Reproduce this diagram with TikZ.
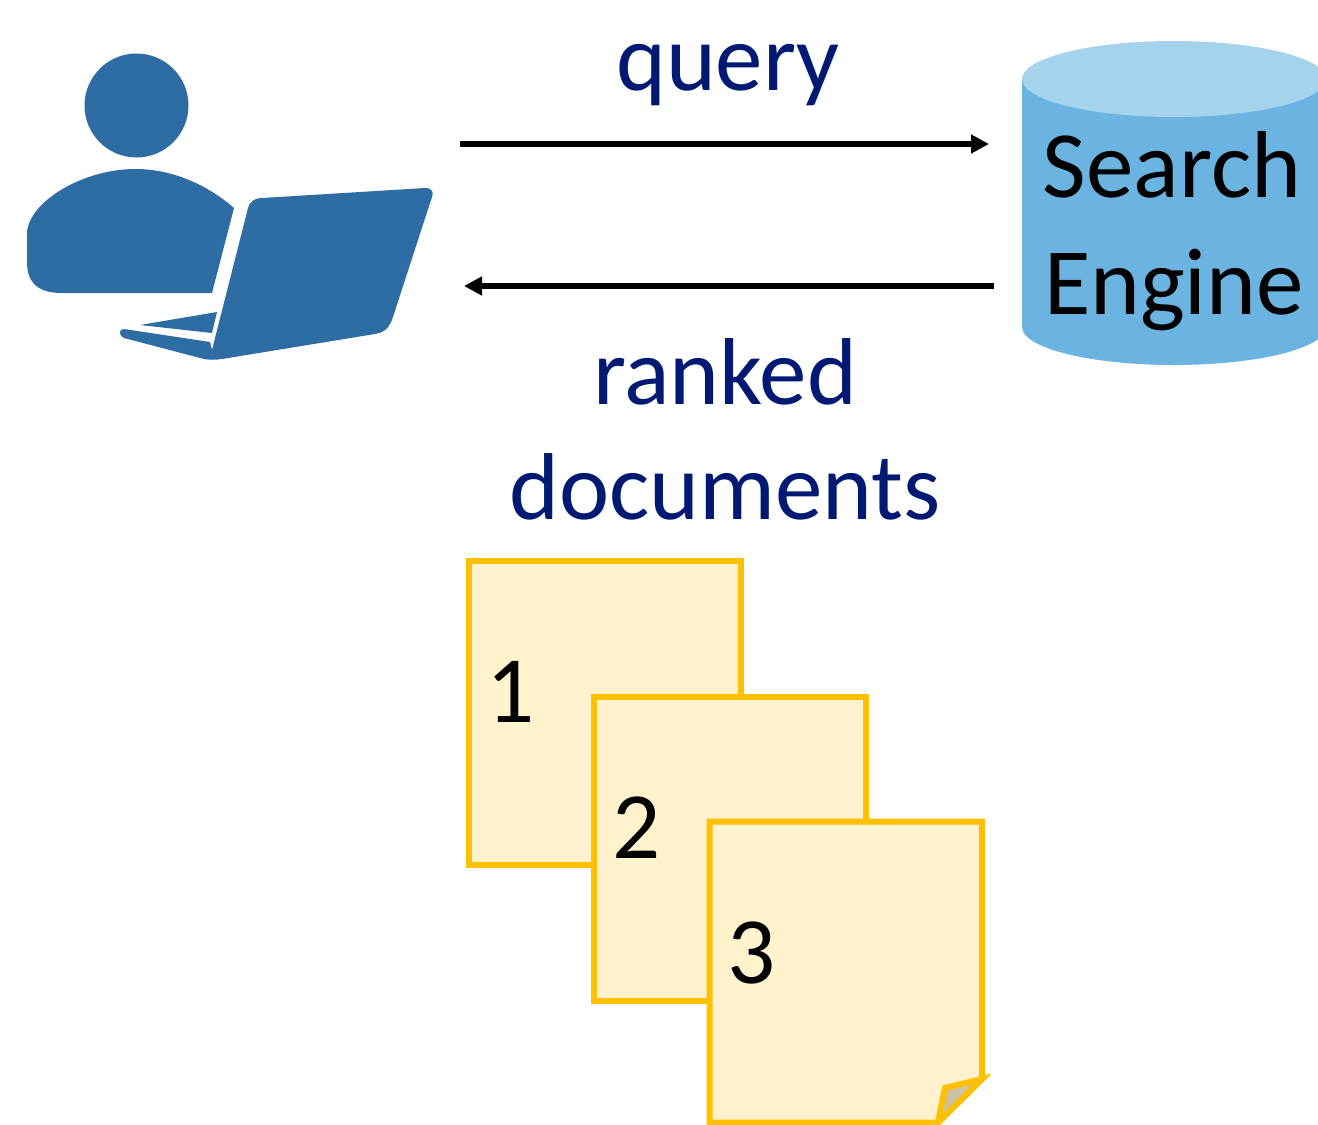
\documentclass[tikz,border=0pt]{standalone}
\usepackage{fontspec}
\setmainfont{Carlito}
\usetikzlibrary{arrows.meta}
\definecolor{iconblue}{HTML}{2E6DA4}
\definecolor{cylbody}{HTML}{6BB3E0}
\definecolor{cyltop}{HTML}{A6D3EC}
\definecolor{labelblue}{HTML}{001A73}
\definecolor{pageline}{HTML}{FFC000}
\definecolor{pagefill}{HTML}{FFF2CC}
\definecolor{foldfill}{HTML}{CBC2A3}
\tikzset{
	bigtext/.style={font=\fontsize{47.5}{56}\selectfont, inner sep=0pt, anchor=base},
	label/.style={bigtext, text=labelblue},
	arrowline/.style={line width=3pt, -{Triangle[length=9pt,width=9pt]}},
	page/.style={draw=pageline, fill=pagefill, line width=3pt, line join=miter}
}
\begin{document}
\begin{tikzpicture}[x=0.5pt, y=-0.5pt]
			\clip (0,0) rectangle (1318,1125);
			\fill[white] (0,0) rectangle (1318,1125);
			% user at the laptop
			\fill[iconblue] (136.5,105.5) circle [radius=26pt];
			\fill[iconblue] (27,232) .. controls (30,200) and (85,169) .. (135,169) .. controls (175,169) and (210,187) .. (234,208) -- (212,293) -- (62,293) .. controls (35,293) and (27,280) .. (27,262) -- cycle;
			\fill[iconblue] (262,198) -- (425,188) .. controls (432,188) and (434,192) .. (432,197) -- (392,320) .. controls (388,330) and (382,333) .. (375,334) -- (222,359) .. controls (215,360) and (210,360) .. (204,359) -- (124,338) .. controls (119,336) and (118,329) .. (124,329) -- (210,342) -- (212,350) -- (248,208) .. controls (250,201) and (255,198) .. (262,198) -- cycle;
			\fill[iconblue] (140,325) -- (217,312) -- (212,333) -- cycle;
			% search engine
			\fill[cylbody] (1022,79) -- (1022,327) arc [start angle=180, end angle=0, x radius=152, y radius=38] -- (1326,79) -- cycle;
			\fill[cyltop] (1174,79) ellipse [x radius=152, y radius=38];
			\node[bigtext] (search) at (1172,197) {Search};
			\node[bigtext] (engine) at (1174,314) {Engine};
			% arrows
			\coordinate (qstart) at (460,144);
			\coordinate (qend) at (989,144);
			\coordinate (rstart) at (994,286);
			\coordinate (rend) at (464,286);
			\draw[arrowline] (qstart) -- (qend);
			\draw[arrowline] (rstart) -- (rend);
			\node[label] (query) at (728,90) {query};
			\node[label] (ranked) at (725,404) {ranked};
			\node[label] (documents) at (725,519) {documents};
			% ranked pages
			\draw[page] (468.5,560.5) rectangle (741,865);
			\draw[page] (594,696.5) rectangle (866,1001);
			\draw[page] (709.5,821.5) -- (982,821.5) -- (982,1079) -- (938,1122.5) -- (709.5,1122.5) -- cycle;
			\draw[page, fill=foldfill] (982,1079) -- (945,1088) -- (938,1122.5) -- cycle;
			\node[bigtext] (one) at (511,722) {1};
			\node[bigtext] (two) at (637,858) {2};
			\node[bigtext] (three) at (752,983) {3};
		\end{tikzpicture}
\end{document}
